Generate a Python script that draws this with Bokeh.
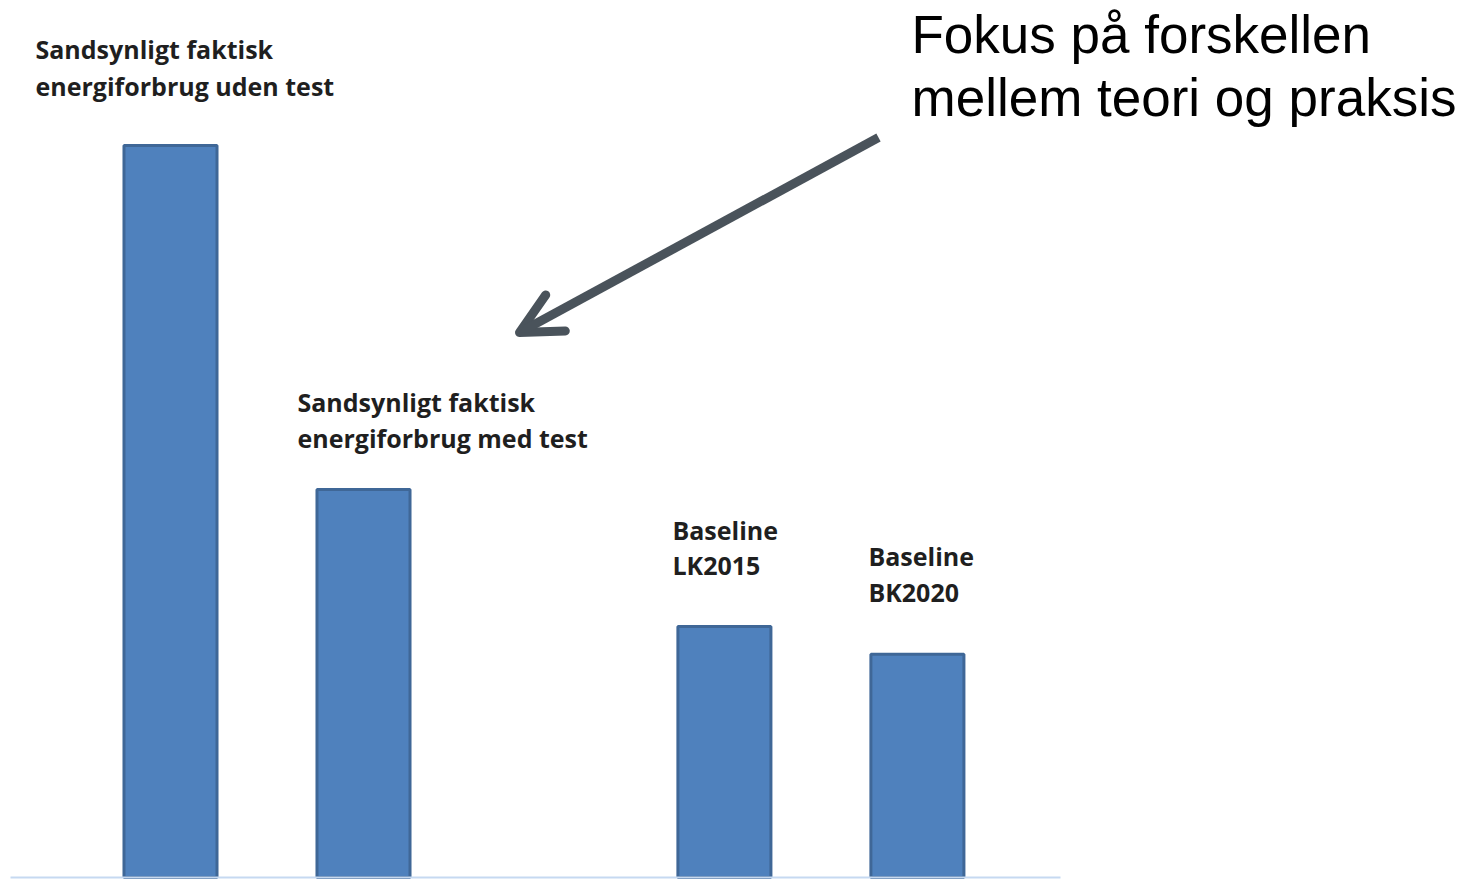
from bokeh.plotting import figure
from bokeh.models import (Range1d, Label, Arrow, OpenHead, ColumnDataSource,
                          LinearAxis, FixedTicker)
from bokeh.embed import file_html
from bokeh.resources import INLINE

# ---- data ----
groups = ["Faktisk", "Faktisk", "Baseline", "Baseline"]
series = ["uden test", "med test", "LK2015", "BK2020"]
energy = [100.0, 53.0, 34.3, 30.5]
bar_labels = [
    ["Sandsynligt faktisk", "energiforbrug uden test"],
    ["Sandsynligt faktisk", "energiforbrug med test"],
    ["Baseline", "LK2015"],
    ["Baseline", "BK2020"],
]
headline = ["Fokus på forskellen", "mellem teori og praksis"]

# ---- layout / style ----
W, H = 1470, 879
UNIT = 193.0          # px per category slot
GPAD = 0.87           # gap between the two groups (slots)
X0 = 0.5 - 170 / UNIT
X1 = X0 + W / UNIT
KY = 7.32             # px per value unit
Y0 = -2.0 / KY
Y1 = Y0 + H / KY

# slot centre of each category (groups separated by GPAD)
centers = []
pos = 0.0
prev = None
for g in groups:
    if prev is not None and g != prev:
        pos += GPAD
    centers.append(pos + 0.5)
    pos += 1.0
    prev = g

p = figure(width=W, height=H, x_range=Range1d(X0, X1), y_range=Range1d(Y0, Y1),
           output_backend="svg", toolbar_location=None,
           x_axis_location=None, y_axis_location=None,
           min_border=0, outline_line_color=None,
           background_fill_color="white", border_fill_color="white")
p.xgrid.visible = False
p.ygrid.visible = False

src = ColumnDataSource(dict(x=centers, top=energy, group=groups, series=series))
p.vbar(x="x", top="top", bottom=0, width=0.482, source=src,
       fill_color="#4f81bd", line_color="#3f6797", line_width=3)

# category axis line (baseline) limited to the original plot area
base_axis = LinearAxis(fixed_location=0, bounds=(X0 + 10 / UNIT, X0 + 1060 / UNIT),
                       ticker=FixedTicker(ticks=[]),
                       axis_line_color="#c6d9f1", axis_line_width=2,
                       major_tick_line_color=None, minor_tick_line_color=None)
p.add_layout(base_axis, "below")

# label offsets relative to bar center / bar top (px)
x_offs = [-135, -66, -52, -49]
y_offs = [[97, 60], [88, 52], [96, 61], [98, 62]]
for i, lines in enumerate(bar_labels):
    for j, line in enumerate(lines):
        p.add_layout(Label(x=centers[i], y=energy[i], x_offset=x_offs[i],
                           y_offset=y_offs[i][j], text=line,
                           text_font="Open Sans", text_font_style="bold",
                           text_font_size="25px", text_color="#1f1f1f",
                           text_align="left", text_baseline="alphabetic"))

def sx(px):
    return X0 + px / UNIT

def sy(py):
    return (877 - py) / KY

for j, line in enumerate(headline):
    p.add_layout(Label(x=sx(911), y=sy([34, 97][j]), text=line,
                       text_font="Liberation Sans", text_font_size="53px",
                       text_color="black", text_align="left",
                       text_baseline="alphabetic"))

arrow_col = "#4a535b"
p.add_layout(Arrow(end=OpenHead(size=41, line_width=9, line_color=arrow_col,
                                line_cap="round", line_join="round"),
                   x_start=sx(878), y_start=sy(137), x_end=sx(519), y_end=sy(332),
                   line_width=9, line_color=arrow_col))

open("out.html", "w").write(file_html(p, INLINE))
